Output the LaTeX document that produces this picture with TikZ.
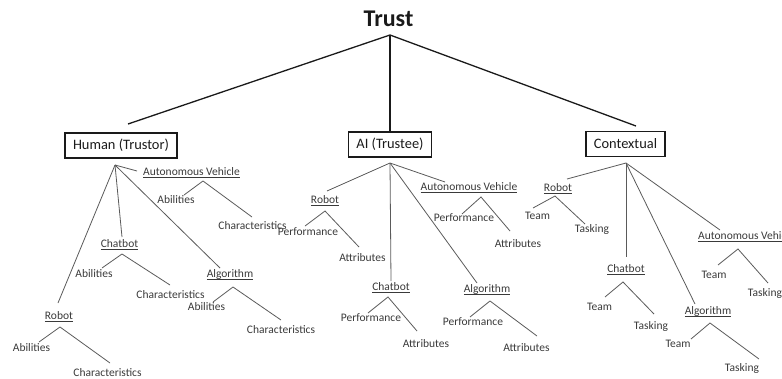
\documentclass[tikz,border=0pt]{standalone}
\usepackage{fontspec}
\setmainfont{Carlito}
\definecolor{ink}{HTML}{1A1A1A}
\definecolor{leafink}{HTML}{3A3A3A}
\definecolor{twigink}{HTML}{5A5A5A}
\newcommand\undl[1]{\setbox0\hbox{#1}\rlap{\rule[-2.4pt]{\wd0}{0.6pt}}\box0}
\tikzset{
  title/.style={font=\fontsize{24}{28}\selectfont\bfseries, text=ink, inner sep=0pt, anchor=base},
  group/.style={draw=ink, line width=1.3pt, font=\fontsize{14.4}{17}\selectfont, text=ink,
    inner xsep=8pt, inner ysep=0pt, minimum height=25pt},
  leaf/.style={font=\fontsize{11.5}{13}\selectfont, text=leafink, inner sep=0pt,
    text height=8.5pt, text depth=2.5pt},
  cat/.style={leaf},
  trunk/.style={draw=ink, line width=1.3pt},
  twig/.style={draw=twigink, line width=0.8pt},
}
% one sub-fork: prefix, apex, left end, right end, left label pos, left text, right label pos, right text
\newcommand\fork[8]{%
  \coordinate (#1-apex) at (#2);
  \coordinate (#1-l) at (#3);
  \coordinate (#1-r) at (#4);
  \node[leaf] (#1-left) at (#5) {#6};
  \node[leaf] (#1-right) at (#7) {#8};
  \draw[twig] (#1-l) -- (#1-apex) -- (#1-r);}
\begin{document}
\begin{tikzpicture}[x=1pt,y=-1pt]
\useasboundingbox (0,0) rectangle (782,378);

% root
\node[title] (trust) at (388.5,26) {Trust};
\coordinate (root) at (390,35);

% three groups
\node[group] (human) at (121,145.5) {Human (Trustor)};
\node[group] (ai) at (390,144.5) {AI (Trustee)};
\node[group] (ctx) at (625.5,144) {Contextual};
\coordinate (human-in) at (128,124);
\coordinate (ctx-in) at (636,126);
\draw[trunk] (root) -- (human-in);
\draw[trunk] (root) -- (ai.north);
\draw[trunk] (root) -- (ctx-in);

% ---------- Human (Trustor) ----------
\coordinate (hh) at (115,165);
\node[cat] (h-av) at (191.5,172) {\undl{Autonomous Vehicle}};
\node[cat] (h-cb) at (119.5,244) {\undl{Chatbot}};
\node[cat] (h-al) at (230,274) {\undl{Algorithm}};
\node[cat] (h-ro) at (59,316) {\undl{Robot}};
\coordinate (h-av-in) at (137,171);
\coordinate (h-cb-in) at (122,237);
\coordinate (h-al-in) at (220,268);
\coordinate (h-ro-in) at (58,303);
\draw[twig] (hh) -- (h-av-in);
\draw[twig] (hh) -- (h-cb-in);
\draw[twig] (hh) -- (h-al-in);
\draw[twig] (hh) -- (h-ro-in);
\fork{h-av-f}{203,181}{184,195}{252,217}{176,200}{Abilities}{252.5,226}{Characteristics}
\fork{h-cb-f}{122,254}{102,268}{170,285}{94,274}{Abilities}{170.5,295}{Characteristics}
\fork{h-al-f}{233,287}{213,302}{281,320}{206.5,307}{Abilities}{281,330}{Characteristics}
\fork{h-ro-f}{60,327}{39,342}{110,363}{31.5,348}{Abilities}{107.5,373}{Characteristics}

% ---------- AI (Trustee) ----------
\coordinate (ah) at (390,163);
\node[cat] (a-ro) at (325,200) {\undl{Robot}};
\node[cat] (a-av) at (469,187) {\undl{Autonomous Vehicle}};
\node[cat] (a-cb) at (391,287) {\undl{Chatbot}};
\node[cat] (a-al) at (487,289) {\undl{Algorithm}};
\coordinate (a-ro-in) at (327,191);
\coordinate (a-av-in) at (445,182);
\coordinate (a-cb-in) at (391,281);
\coordinate (a-al-in) at (477,283);
\draw[twig] (ah) -- (a-ro-in);
\draw[twig] (ah) -- (a-av-in);
\draw[twig] (ah) -- (a-cb-in);
\draw[twig] (ah) -- (a-al-in);
\fork{a-ro-f}{325,211}{305,226}{359,247}{308,232}{Performance}{362.5,258}{Attributes}
\fork{a-av-f}{481,197}{462,214}{510,231}{464,218}{Performance}{518,244}{Attributes}
\fork{a-cb-f}{388,297}{368,313}{417,331}{371,318}{Performance}{426,344}{Attributes}
\fork{a-al-f}{490,301}{470,317}{537,336}{473,322}{Performance}{526.5,348}{Attributes}

% ---------- Contextual ----------
\coordinate (ch) at (626,163);
\node[cat] (c-ro) at (558,188) {\undl{Robot}};
\node[cat] (c-cb) at (626,269) {\undl{Chatbot}};
\node[cat] (c-al) at (708,311) {\undl{Algorithm}};
\node[cat, anchor=west] (c-av) at (698,236) {\undl{Autonomous Vehicle}};
\coordinate (c-ro-in) at (567,179);
\coordinate (c-cb-in) at (626,257);
\coordinate (c-al-in) at (695,304);
\coordinate (c-av-in) at (720,230);
\draw[twig] (ch) -- (c-ro-in);
\draw[twig] (ch) -- (c-cb-in);
\draw[twig] (ch) -- (c-al-in);
\draw[twig] (ch) -- (c-av-in);
\fork{c-ro-f}{555,196}{533,208}{585,224}{537.5,216}{Team}{592,229}{Tasking}
\fork{c-cb-f}{623,282}{605,297}{654,314}{599.5,307}{Team}{651,326}{Tasking}
\fork{c-al-f}{710,323}{691,339}{759,359}{678,344}{Team}{742,368}{Tasking}
\fork{c-av-f}{738,249}{718,265}{768,283}{714,275}{Team}{765,293}{Tasking}
\end{tikzpicture}
\end{document}
